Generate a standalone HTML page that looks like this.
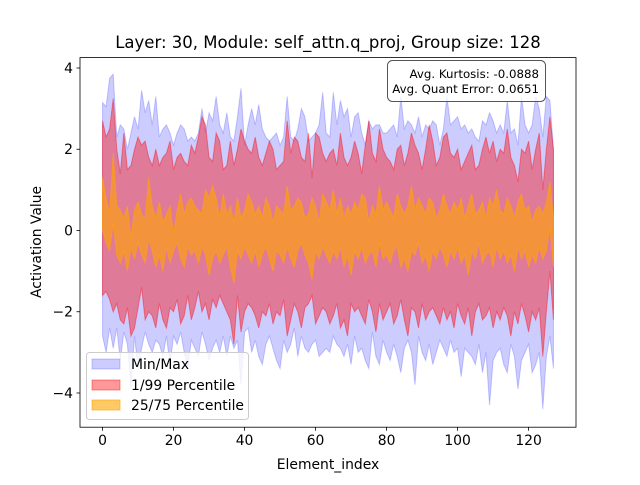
<!DOCTYPE html>
<html><head><meta charset="utf-8"><style>
body{margin:0;background:#fff;}
svg text{font-family:"DejaVu Sans","Liberation Sans",sans-serif;}
</style></head><body>
<svg id="chart" width="640" height="480" viewBox="0 0 640 480" xmlns="http://www.w3.org/2000/svg">
<rect width="640" height="480" fill="#fff"/>
<g id="bands"></g>
<rect x="80" y="57.6" width="496" height="369.6" fill="none" stroke="#000" stroke-width="0.8"/>
<g id="ticks"></g>
<text x="328" y="48" font-size="16.5" text-anchor="middle">Layer: 30, Module: self_attn.q_proj,  Group size: 128</text>
<text x="328" y="469" font-size="13.9" text-anchor="middle">Element_index</text>
<text transform="translate(41,242) rotate(-90)" font-size="13.9" text-anchor="middle">Activation Value</text>
<g>
<rect x="387.5" y="60.5" width="158" height="41" rx="5" fill="#fff" fill-opacity="0.8" stroke="#555"/>
<text x="539" y="78" font-size="11.8" text-anchor="end">Avg. Kurtosis: -0.0888</text>
<text x="539" y="93" font-size="11.8" text-anchor="end">Avg. Quant Error: 0.0651</text>
</g>
<g>
<rect x="86.5" y="352.5" width="162" height="67" rx="3" fill="#fff" fill-opacity="0.8" stroke="#ccc"/>
<g><rect x="92" y="359" width="28" height="10" fill="#0000ff" fill-opacity="0.2" stroke="#0000ff" stroke-opacity="0.2"/><text x="131" y="369" font-size="13.9">Min/Max</text></g>
<g><rect x="92" y="380" width="28" height="10" fill="#ff0000" fill-opacity="0.4" stroke="#ff0000" stroke-opacity="0.4"/><text x="131" y="390" font-size="13.9">1/99 Percentile</text></g>
<g><rect x="92" y="400" width="28" height="10" fill="#ffa500" fill-opacity="0.6" stroke="#ffa500" stroke-opacity="0.6"/><text x="131" y="410" font-size="13.9">25/75 Percentile</text></g>
</g>
</svg>
<script>
const maxVals=[3.15,3.05,3.75,3.85,2.3,2.6,2.5,2.0,2.4,2.8,2.5,3.45,2.9,3.2,2.6,3.3,
2.3,2.5,2.6,2.4,2.1,2.4,2.6,2.5,2.2,2.3,2.2,2.4,3.0,2.4,2.9,2.7,
3.3,2.6,2.4,2.9,2.3,2.2,2.8,3.5,2.1,2.6,3.0,2.6,3.1,2.5,2.3,2.2,
2.3,2.4,2.1,2.3,3.3,2.3,2.2,2.5,3.0,2.8,2.2,2.3,2.4,2.6,3.4,2.4,
2.3,3.4,2.6,3.2,2.8,3.0,2.3,2.8,2.9,2.4,2.1,2.7,2.5,2.6,2.6,2.4,
2.4,2.5,2.6,2.3,3.3,2.5,2.7,2.6,2.4,2.8,2.3,2.6,2.5,2.7,2.6,2.1,
2.5,3.3,2.6,2.7,2.8,2.5,2.6,2.4,2.5,2.3,2.2,2.7,2.6,2.9,2.7,2.4,
2.6,2.4,3.2,2.4,2.5,2.1,3.3,2.6,2.4,2.6,3.3,3.0,2.3,3.3,3.2,2.0];
const p99Vals=[2.7,2.3,2.5,3.25,2.0,1.4,2.4,1.5,1.6,2.0,2.3,2.1,2.2,1.8,1.6,2.0,
1.6,1.8,1.9,2.2,1.5,1.8,1.9,1.7,1.6,2.1,1.9,2.3,2.8,2.6,1.8,1.7,
2.4,2.2,1.5,1.6,2.2,1.6,2.0,2.5,2.2,2.0,1.9,2.3,1.8,1.6,1.9,2.2,
2.0,1.5,1.6,1.7,2.7,1.9,2.3,2.2,1.8,1.7,2.4,1.3,2.4,2.3,1.9,1.7,
1.9,2.0,1.6,2.4,1.8,1.6,1.8,2.2,1.9,1.4,2.1,2.7,1.9,1.7,2.5,2.0,
1.8,1.7,1.5,2.0,2.1,1.6,1.9,2.4,2.1,1.9,1.5,2.0,2.6,2.2,1.6,1.8,
2.3,2.4,1.9,1.8,2.0,1.5,1.7,1.9,2.1,1.5,1.6,2.0,2.3,1.9,2.2,1.7,
2.0,1.9,2.5,1.8,1.6,1.2,2.0,1.9,2.2,1.5,2.0,2.4,1.0,2.0,2.8,2.0];
const p75Vals=[1.3,0.8,0.4,1.9,0.6,0.5,0.3,0.6,-0.2,0.5,0.7,0.4,0.3,1.3,0.6,0.3,
0.7,0.2,0.4,0.6,-0.1,0.5,0.9,0.4,0.7,0.8,0.6,0.5,0.4,1.0,0.8,1.1,
0.8,0.3,0.9,0.4,0.6,0.2,0.8,0.3,0.5,0.9,0.7,0.4,0.6,0.3,0.8,0.6,
0.2,0.6,0.5,0.4,1.1,0.5,0.6,0.8,0.7,0.3,0.4,0.8,0.6,0.2,0.9,0.7,
0.5,1.0,0.4,0.8,0.3,0.6,0.4,0.7,0.5,0.9,0.8,0.2,0.6,0.4,1.1,0.5,
0.7,0.5,0.3,0.9,0.6,0.4,0.6,1.1,0.5,0.8,0.6,0.4,0.8,0.7,0.3,0.5,
0.9,0.6,0.4,0.7,0.5,0.8,0.3,0.6,0.9,0.4,0.5,0.7,0.3,0.8,0.6,1.0,
0.5,0.4,0.8,0.6,0.3,0.7,0.9,0.5,0.6,0.2,0.5,0.6,0.4,0.7,1.2,0.3];
const p25Vals=[0.0,-0.3,-0.5,0.2,-0.6,-0.8,-0.5,-1.0,-0.4,-0.7,-0.3,-0.6,-0.8,-0.2,-0.5,-0.9,
-0.6,-1.0,-0.4,-0.8,-0.5,-0.3,-0.7,-0.9,-0.4,-0.6,-0.5,-0.8,-0.4,-0.6,-1.1,-0.7,
-0.5,-0.8,-0.6,-0.4,-0.9,-1.3,-0.5,-0.7,-0.4,-0.6,-0.8,-0.5,-0.9,-0.6,-0.4,-0.7,
-1.0,-0.5,-0.6,-0.8,-0.4,-0.7,-0.9,-0.5,-0.3,-0.6,-0.8,-1.2,-0.5,-0.7,-0.4,-0.6,
-0.8,-0.5,-0.7,-0.4,-0.9,-0.6,-1.1,-0.5,-0.7,-0.4,-0.8,-0.6,-0.5,-0.9,-0.3,-0.7,
-0.6,-0.8,-0.5,-0.4,-0.9,-0.7,-1.0,-0.5,-0.6,-0.3,-0.8,-0.6,-1.0,-0.5,-0.7,-0.4,
-0.6,-0.9,-0.5,-0.7,-0.4,-0.8,-0.6,-1.1,-0.5,-0.7,-0.3,-0.8,-0.6,-0.5,-0.9,-0.4,
-0.7,-0.5,-0.8,-0.6,-1.0,-0.4,-0.7,-0.5,-0.9,-0.6,-0.8,-0.4,-0.7,-0.5,0.1,-0.9];
const p1Vals=[-1.6,-1.5,-1.7,-2.0,-1.8,-2.2,-2.3,-1.9,-2.6,-2.4,-1.9,-1.4,-2.2,-2.0,-2.1,-2.4,
-1.8,-2.2,-2.4,-1.9,-2.0,-1.7,-2.3,-2.1,-1.6,-2.2,-1.9,-1.5,-2.0,-1.8,-2.2,-1.7,
-1.9,-1.6,-1.8,-2.0,-2.2,-2.8,-1.6,-2.5,-2.0,-1.8,-1.9,-2.1,-2.4,-2.0,-2.1,-1.8,
-2.3,-2.0,-2.1,-1.7,-2.6,-2.2,-1.8,-2.0,-2.4,-1.9,-1.8,-1.6,-2.3,-2.1,-1.9,-2.0,
-2.3,-2.1,-1.8,-2.4,-2.2,-2.6,-1.8,-2.0,-1.9,-2.1,-2.3,-1.7,-2.0,-2.5,-1.8,-2.2,
-2.0,-1.8,-2.3,-2.1,-1.7,-2.2,-2.6,-1.9,-2.0,-2.4,-1.8,-2.2,-2.0,-1.9,-2.1,-2.3,
-1.9,-2.2,-2.0,-2.4,-1.8,-2.1,-2.3,-1.9,-2.6,-2.0,-1.8,-2.2,-2.1,-1.9,-2.4,-2.0,
-2.2,-1.9,-2.1,-2.6,-2.0,-2.3,-1.8,-2.1,-2.5,-2.0,-2.2,-1.9,-3.1,-2.0,-1.0,-2.2];
const minVals=[-2.6,-3.0,-2.4,-2.9,-2.4,-3.2,-2.5,-2.8,-3.9,-2.6,-3.4,-2.9,-2.5,-2.8,-3.0,-2.7,
-2.8,-3.1,-2.6,-3.3,-2.6,-2.8,-2.5,-3.0,-3.4,-2.7,-2.9,-3.1,-2.5,-2.8,-3.2,-2.9,
-2.7,-3.0,-2.6,-3.1,-2.6,-2.9,-2.7,-3.8,-2.5,-2.4,-3.0,-2.7,-3.1,-3.3,-2.8,-2.6,
-2.9,-3.2,-3.4,-2.7,-3.0,-2.8,-2.4,-3.1,-2.6,-2.9,-3.0,-2.8,-2.7,-3.1,-3.0,-2.9,
-3.0,-2.6,-2.8,-2.9,-3.1,-2.8,-3.3,-2.6,-3.0,-2.9,-3.2,-3.4,-2.5,-3.1,-3.3,-2.7,
-3.0,-3.2,-2.8,-3.1,-3.5,-2.9,-2.7,-3.0,-3.8,-2.6,-3.0,-3.2,-2.8,-3.3,-3.0,-2.7,
-2.9,-3.1,-2.7,-3.0,-2.9,-3.6,-2.9,-3.0,-3.1,-3.3,-2.8,-3.5,-3.0,-4.3,-3.2,-3.0,
-2.9,-3.3,-3.5,-2.8,-3.1,-3.9,-3.2,-3.0,-2.8,-3.5,-3.3,-3.0,-4.4,-3.1,-2.6,-3.4];
const xTicks=[0,20,40,60,80,100,120];
const yTicks=[-4,-2,0,2,4];

const NS='http://www.w3.org/2000/svg';
const X0=80,X1=576,Y0=57.6,Y1=427.2,xmin=-6.35,xmax=133.35,ymin=-4.842,ymax=4.256;
function xs(v){return X0+(v-xmin)/(xmax-xmin)*(X1-X0);}
function ys(v){return Y1-(v-ymin)/(ymax-ymin)*(Y1-Y0);}
const bands=document.getElementById('bands');
function band(lo,hi,color,alpha,name){
  let d='';
  hi.forEach((v,i)=>{d+=(i?'L':'M')+xs(i).toFixed(2)+','+ys(v).toFixed(2);});
  for(let i=lo.length-1;i>=0;i--){d+='L'+xs(i).toFixed(2)+','+ys(lo[i]).toFixed(2);}
  d+='Z';
  const p=document.createElementNS(NS,'path');
  p.setAttribute('d',d);
  p.setAttribute('fill',color);p.setAttribute('fill-opacity',alpha);
  p.setAttribute('stroke',color);p.setAttribute('stroke-opacity',alpha);p.setAttribute('stroke-width','1');
  
  
  bands.appendChild(p);
}
band(minVals,maxVals,'#0000ff',0.2,'minmax-band');
band(p1Vals,p99Vals,'#ff0000',0.4,'percentile-1-99-band');
band(p25Vals,p75Vals,'#ffa500',0.6,'percentile-25-75-band');
const tg=document.getElementById('ticks');
xTicks.forEach(t=>{
  const l=document.createElementNS(NS,'line');
  l.setAttribute('x1',xs(t));l.setAttribute('x2',xs(t));l.setAttribute('y1',Y1);l.setAttribute('y2',Y1+3.5);
  l.setAttribute('stroke','#000');l.setAttribute('stroke-width','0.8');
  
  
  tg.appendChild(l);
  const tx=document.createElementNS(NS,'text');
  tx.setAttribute('x',xs(t));tx.setAttribute('y',Y1+18);tx.setAttribute('font-size','13.9');tx.setAttribute('text-anchor','middle');
  tx.textContent=t;
  
  
  tg.appendChild(tx);
});
yTicks.forEach(t=>{
  const l=document.createElementNS(NS,'line');
  l.setAttribute('x1',X0-3.5);l.setAttribute('x2',X0);l.setAttribute('y1',ys(t));l.setAttribute('y2',ys(t));
  l.setAttribute('stroke','#000');l.setAttribute('stroke-width','0.8');
  
  
  tg.appendChild(l);
  const tx=document.createElementNS(NS,'text');
  tx.setAttribute('x',X0-7);tx.setAttribute('y',ys(t)+5);tx.setAttribute('font-size','13.9');tx.setAttribute('text-anchor','end');
  tx.textContent=t<0?'\u2212'+Math.abs(t):String(t);
  
  
  tg.appendChild(tx);
});
</script>
</body></html>
